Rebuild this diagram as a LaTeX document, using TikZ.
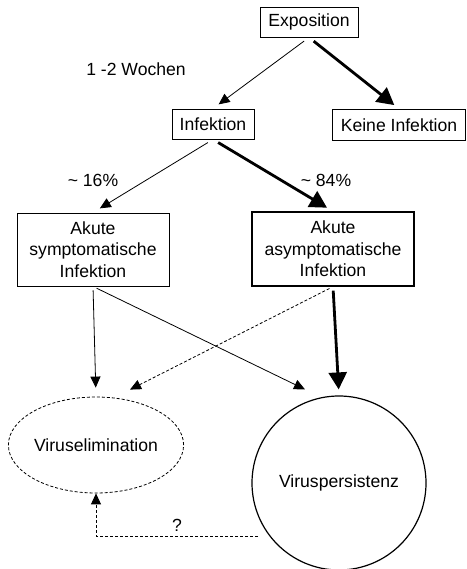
\documentclass[tikz,border=0pt]{standalone}
\usepackage{fontspec}
\setmainfont{Liberation Sans}
\usetikzlibrary{calc}
\usetikzlibrary{arrows.meta}
\usetikzlibrary{shapes.geometric}

\begin{document}
\begin{tikzpicture}[x=1pt, y=1pt,
        every node/.style={font=\fontsize{17.6}{21.5}\selectfont},
        box/.style={draw, line width=0.9pt, align=center, inner sep=0pt},
        thinarrow/.style={line width=0.8pt, -{Triangle[length=11pt, width=10pt]}},
        thickarrow/.style={line width=2.8pt, -{Triangle[length=17pt, width=18pt]}},
        dasharrow/.style={line width=0.8pt, dash pattern=on 3pt off 2pt, -{Triangle[length=11pt, width=10pt]}}]
    \useasboundingbox (0,0) rectangle (466,569);
    % boxes
    \node [box, minimum width=98pt, minimum height=30pt] (expo) at (309,547) {Exposition};
    \node [box, minimum width=82pt, minimum height=30pt] (inf) at (213,445) {Infektion};
    \node [box, line width=1.4pt, minimum width=133pt, minimum height=31pt] (keine) at (399,444) {Keine Infektion};
    \node [box, minimum width=152pt, minimum height=73pt] (symp) at (93,319.5) {Akute\\symptomatische\\Infektion};
    \node [box, line width=1.4pt, minimum width=162pt, minimum height=74pt] (asymp) at (333,320) {Akute\\asymptomatische\\Infektion};
    \node [ellipse, draw, line width=0.8pt, dash pattern=on 3pt off 2pt, inner sep=0pt, minimum width=175pt, minimum height=96pt] (elim) at (96,124) {Viruselimination};
    \node [circle, draw, line width=1.2pt, inner sep=0pt, minimum size=174pt] (pers) at (339,86) {Viruspersistenz};
    % labels
    \node (wochen) at (136,500) {1 -2 Wochen};
    \node (p16) at (93,389) {\textasciitilde\ 16\%};
    \node (p84) at (326,389) {\textasciitilde\ 84\%};
    % arrows
    \draw [thinarrow, shorten <=6pt, shorten >=7pt] (expo.south) -- (inf.north);
    \draw [thickarrow, shorten <=6pt, shorten >=6pt] (expo.south) -- (keine.north);
    \draw [thinarrow, shorten <=6pt, shorten >=8pt] (inf.south) -- (symp.north);
    \draw [thickarrow, shorten <=6pt, shorten >=7pt] (inf.south) -- (asymp.north);
    \draw [thinarrow, shorten <=4pt, shorten >=9pt] (symp.south) -- (elim.north);
    \draw [thinarrow, shorten <=4pt] (symp.south) -- ($(pers.north)+(-34,6)$);
    \draw [dasharrow, shorten <=4pt] (asymp.south) -- ($(elim.north)+(34,7)$);
    \draw [thickarrow, shorten <=4pt, shorten >=6pt] (asymp.south) -- (pers.north);
    \draw [dasharrow] ($(pers.center)+(-81,-53)$) -| node [pos=0.25, above=1pt] {?} (elim.south);
\end{tikzpicture}
\end{document}
